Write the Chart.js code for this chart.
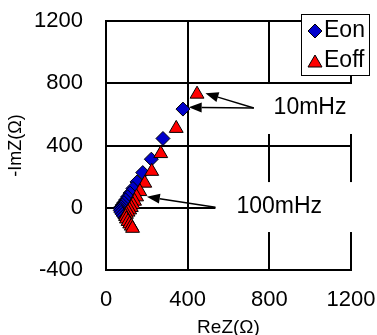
<!DOCTYPE html>
<html>
<head>
<meta charset="utf-8">
<script src="https://cdn.jsdelivr.net/npm/chart.js@4.4.1/dist/chart.umd.min.js"></script>
<style>
  html, body { margin: 0; padding: 0; background: #fff; }
  #wrap { width: 377px; height: 335px; }
</style>
</head>
<body>
<div id="wrap"><canvas id="myChart"></canvas></div>
<script>
// Nyquist data, Ohm
const eonRe = [377, 279, 222, 180, 152, 132, 118, 106, 96, 88, 80, 74, 70, 70, 74, 80, 86, 92];
const eonIm = [634, 445, 312, 226, 166, 124, 94, 70, 50, 33, 18, 6, -6, -18, -30, -42, -54, -66];
const eoffRe = [446, 344, 268, 224, 190, 166, 150, 140, 132, 124, 116, 108, 100, 96, 100, 108, 116, 124, 130];
const eoffIm = [730, 510, 348, 234, 158, 104, 70, 42, 20, 2, -14, -28, -42, -56, -72, -88, -104, -118, -132];

const xTicks = [0, 400, 800, 1200];
const yTicks = [-400, 0, 400, 800, 1200];

// frequency call-outs, in data units
const notes = [
  { text: "10mHz", box: [724, 1260, 795, 474], at: [821, 641], from: [724, 641], tips: [[487, 735], [405, 645]] },
  { text: "100mHz", box: [536, 1260, 165, -156], at: [639, 5], from: [536, 3], tips: [[200, 71]] },
];

const FONT = "'Liberation Sans', Arial, sans-serif";

function pts(xs, ys) {
  return xs.map((x, i) => ({ x: x, y: ys[i] }));
}

function arrow(c, x0, y0, x1, y1) {
  const a = Math.atan2(y1 - y0, x1 - x0);
  const len = 13, half = 5;
  const bx = x1 - Math.cos(a) * len, by = y1 - Math.sin(a) * len;
  c.beginPath();
  c.moveTo(x0, y0);
  c.lineTo(bx, by);
  c.stroke();
  c.beginPath();
  c.moveTo(x1, y1);
  c.lineTo(bx + Math.sin(a) * half, by - Math.cos(a) * half);
  c.lineTo(bx - Math.sin(a) * half, by + Math.cos(a) * half);
  c.closePath();
  c.fill();
}

const notesPlugin = {
  id: "notes",
  beforeDatasetsDraw(chart) {
    const c = chart.ctx, xs = chart.scales.x, ys = chart.scales.y;
    c.save();
    notes.forEach((n) => {
      const l = xs.getPixelForValue(n.box[0]), r = xs.getPixelForValue(n.box[1]);
      const t = ys.getPixelForValue(n.box[2]), b = ys.getPixelForValue(n.box[3]);
      c.fillStyle = "#fff";
      c.fillRect(l, t, r - l, b - t);
      c.fillStyle = "#000";
      c.strokeStyle = "#000";
      c.lineWidth = 1.5;
      const fx = xs.getPixelForValue(n.from[0]), fy = ys.getPixelForValue(n.from[1]);
      n.tips.forEach((p) => arrow(c, fx, fy, xs.getPixelForValue(p[0]), ys.getPixelForValue(p[1])));
      c.font = "23px " + FONT;
      c.textAlign = "left";
      c.textBaseline = "middle";
      c.fillText(n.text, xs.getPixelForValue(n.at[0]), ys.getPixelForValue(n.at[1]));
    });
    c.restore();
  },
  afterDraw(chart) {
    // legend box over the top-right corner
    const c = chart.ctx;
    c.save();
    c.fillStyle = "#fff";
    c.fillRect(301, 14, 69, 62);
    c.strokeStyle = "#000";
    c.lineWidth = 1;
    c.strokeRect(301.5, 14.5, 68, 61);
    chart.data.datasets.forEach((ds, i) => {
      const y = 31 + i * 30;
      c.fillStyle = ds.backgroundColor;
      c.strokeStyle = "#000";
      c.beginPath();
      if (ds.pointStyle === "triangle") {
        c.moveTo(315, y - 6); c.lineTo(322, y + 6); c.lineTo(308, y + 6);
      } else {
        c.moveTo(315, y - 7); c.lineTo(322, y); c.lineTo(315, y + 7); c.lineTo(308, y);
      }
      c.closePath();
      c.fill();
      c.stroke();
      c.fillStyle = "#000";
      c.font = "23px " + FONT;
      c.textAlign = "left";
      c.textBaseline = "middle";
      c.fillText(ds.label, 324, y);
    });
    c.restore();
  },
};

new Chart(document.getElementById("myChart"), {
  type: "scatter",
  data: {
    datasets: [
      {
        label: "Eon",
        data: pts(eonRe, eonIm),
        pointStyle: "rectRot",
        pointRadius: 7,
        backgroundColor: "#0000CC",
        borderColor: "#000",
        borderWidth: 1,
        order: 2,
      },
      {
        label: "Eoff",
        data: pts(eoffRe, eoffIm),
        pointStyle: "triangle",
        pointRadius: 8,
        backgroundColor: "#FF0000",
        borderColor: "#000",
        borderWidth: 1,
        order: 1,
      },
    ],
  },
  options: {
    responsive: true,
    maintainAspectRatio: false,
    animation: false,
    layout: { padding: { top: 21, right: 26, bottom: 0, left: 0 } },
    plugins: {
      legend: { display: false },
      tooltip: { enabled: false },
    },
    scales: {
      x: {
        type: "linear",
        min: xTicks[0],
        max: xTicks[xTicks.length - 1],
        afterBuildTicks: (s) => { s.ticks = xTicks.map((v) => ({ value: v })); },
        afterFit: (s) => { s.height = 65; s.paddingLeft = 0; s.paddingRight = 0; },
        grid: { color: "#000", lineWidth: 2, drawTicks: false },
        border: { color: "#000", width: 2 },
        ticks: { color: "#000", padding: 17, maxRotation: 0, callback: (v) => String(v), font: { family: FONT, size: 22 } },
        title: { display: true, text: "ReZ(Ω)", color: "#000", padding: { top: 0, bottom: -4 }, font: { family: FONT, size: 19 } },
      },
      y: {
        type: "linear",
        min: yTicks[0],
        max: yTicks[yTicks.length - 1],
        afterBuildTicks: (s) => { s.ticks = yTicks.map((v) => ({ value: v })); },
        afterFit: (s) => { s.width = 106; s.paddingTop = 0; s.paddingBottom = 0; },
        grid: { color: "#000", lineWidth: 2, drawTicks: false },
        border: { color: "#000", width: 2 },
        ticks: { color: "#000", padding: 23, callback: (v) => String(v), font: { family: FONT, size: 22 } },
        title: { display: true, text: "-ImZ(Ω)", color: "#000", padding: { top: 5 }, font: { family: FONT, size: 18 } },
      },
    },
  },
  plugins: [notesPlugin],
});
</script>
</body>
</html>
